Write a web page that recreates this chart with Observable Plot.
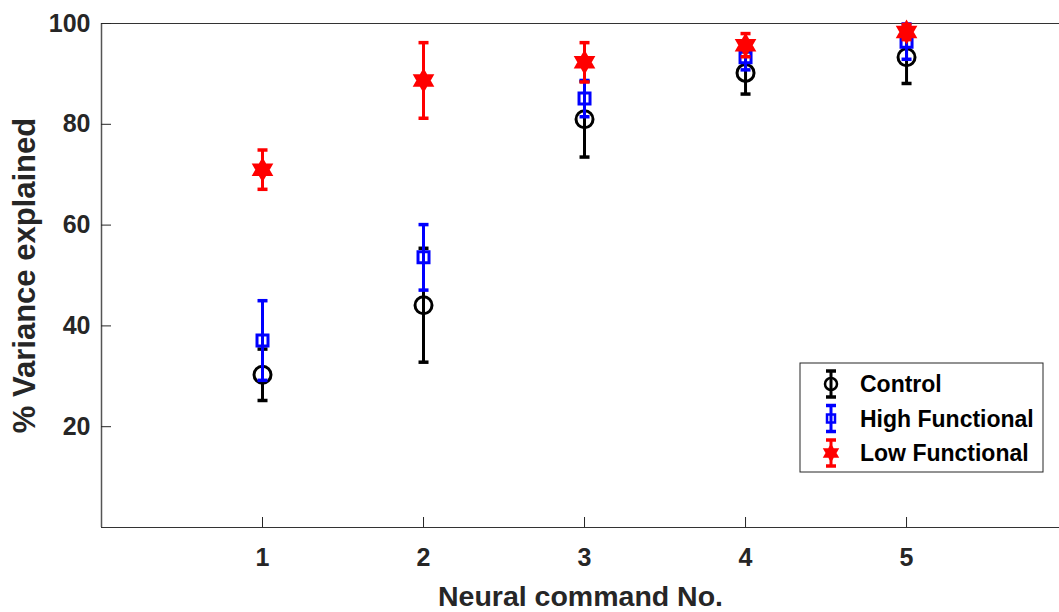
<!DOCTYPE html>
<html><head><meta charset="utf-8">
<script src="https://cdn.jsdelivr.net/npm/d3@7"></script>
<script src="https://cdn.jsdelivr.net/npm/@observablehq/plot@0.6"></script>
<style>
html,body{margin:0;padding:0;background:#fff;}
#chart{position:relative;width:1059px;height:612px;overflow:hidden;}
#chart svg{font-family:"Liberation Sans",Arial,sans-serif;font-weight:bold;}
#chart svg [aria-label="x-axis label"] text{font-size:28.5px;}
#chart svg [aria-label="y-axis label"] text{font-size:31px;}
</style></head><body><div id="chart"></div>
<script>
// ---- data ----
const commands = [1, 2, 3, 4, 5];
const xTicks = [1, 2, 3, 4, 5];
const yTicks = [20, 40, 60, 80, 100];
const seriesNames = ["Control", "High Functional", "Low Functional"];
const seriesColors = ["#000000", "#0000ff", "#ff0000"];
const controlMean = [30.3, 44.1, 81.0, 90.2, 93.3];
const controlErr  = [5.1, 11.3, 7.5, 4.2, 5.2];
const highMean    = [37.1, 53.6, 85.1, 93.3, 96.4];
const highErr     = [7.9, 6.5, 3.6, 2.5, 3.5];
const lowMean     = [71.0, 88.7, 92.3, 95.7, 98.3];
const lowErr      = [3.9, 7.5, 3.9, 2.3, 1.5];

const means = [controlMean, highMean, lowMean];
const errs = [controlErr, highErr, lowErr];

// ---- symbols ----
const capSymbol = {draw(ctx, size) { const r = Math.sqrt(size / Math.PI); ctx.moveTo(-r, 0); ctx.lineTo(r, 0); }};
const hexagram = {draw(ctx, size) {
  const R = Math.sqrt(size / Math.PI);
  for (const off of [-Math.PI / 2, Math.PI / 2]) {
    for (let k = 0; k < 3; k++) {
      const a = off + k * 2 * Math.PI / 3;
      const px = R * Math.cos(a), py = R * Math.sin(a);
      if (k) ctx.lineTo(px, py); else ctx.moveTo(px, py);
    }
    ctx.closePath();
  }
}};
const markerSym = ["circle", "square", hexagram];
const markerR = [8.5, 6.2, 9.5];
const markerFill = ["none", "none", "#ff0000"];

const marks = [];
seriesNames.forEach((name, s) => {
  const data = commands.map((c, i) => ({x: c, mean: means[s][i], lo: means[s][i] - errs[s][i], hi: means[s][i] + errs[s][i]}));
  const color = seriesColors[s];
  marks.push(
    Plot.ruleX(data, {x: "x", y1: "lo", y2: "hi", stroke: color, strokeWidth: 3}),
    Plot.dot(data, {x: "x", y: "lo", symbol: capSymbol, r: 5, stroke: color, strokeWidth: 3.5}),
    Plot.dot(data, {x: "x", y: "hi", symbol: capSymbol, r: 5, stroke: color, strokeWidth: 3.5}),
    Plot.dot(data, {x: "x", y: "mean", symbol: markerSym[s], r: markerR[s], stroke: color, fill: markerFill[s], strokeWidth: 3})
  );
});

const chart = Plot.plot({
  width: 1059,
  height: 612,
  marginLeft: 101,
  marginTop: 23,
  marginBottom: 85,
  marginRight: 0,
  style: {fontSize: "25px", color: "#262626", background: "#fff"},
  x: {domain: [0, 5.95]},
  y: {domain: [0, 100]},
  marks: [
    Plot.ruleY([0, 100], {stroke: "#333", strokeWidth: 1.2}),
    Plot.ruleX([0], {stroke: "#555", strokeWidth: 1.5}),
    Plot.axisX(xTicks, {tickSize: -10, tickPadding: 31, tickFormat: "d", stroke: "#262626", label: "Neural command No.", labelAnchor: "center", labelArrow: "none", labelOffset: 78}),
    Plot.axisY(yTicks, {tickSize: -10, tickPadding: 21, tickFormat: "d", stroke: "#262626", label: "% Variance explained", labelAnchor: "center", labelArrow: "none", labelOffset: 89}),
    ...marks
  ]
});
document.getElementById("chart").appendChild(chart);

// ---- legend ----
const svg = d3.select(chart);
const lg = svg.append("g").attr("transform", "translate(800,363)");
lg.append("rect").attr("width", 243).attr("height", 109).attr("fill", "#fff").attr("stroke", "#262626").attr("stroke-width", 1);
const legendMarkerR = [6, 4.5, 7];
seriesNames.forEach((name, s) => {
  const g = lg.append("g").attr("transform", `translate(31,${21 + s * 34.5})`);
  const c = seriesColors[s];
  g.append("line").attr("y1", -13).attr("y2", 13).attr("stroke", c).attr("stroke-width", 3);
  g.append("line").attr("x1", -5).attr("x2", 5).attr("y1", -13).attr("y2", -13).attr("stroke", c).attr("stroke-width", 3.5);
  g.append("line").attr("x1", -5).attr("x2", 5).attr("y1", 13).attr("y2", 13).attr("stroke", c).attr("stroke-width", 3.5);
  const symType = s === 0 ? d3.symbolCircle : s === 1 ? d3.symbolSquare : hexagram;
  g.append("path").attr("d", d3.symbol(symType, Math.PI * legendMarkerR[s] ** 2)())
    .attr("fill", markerFill[s]).attr("stroke", c).attr("stroke-width", 2.5);
  g.append("text").attr("x", 29).attr("dy", "0.35em").attr("text-anchor", "start")
    .attr("font-size", 23).attr("fill", "#000").text(name);
});
</script>
</body></html>
